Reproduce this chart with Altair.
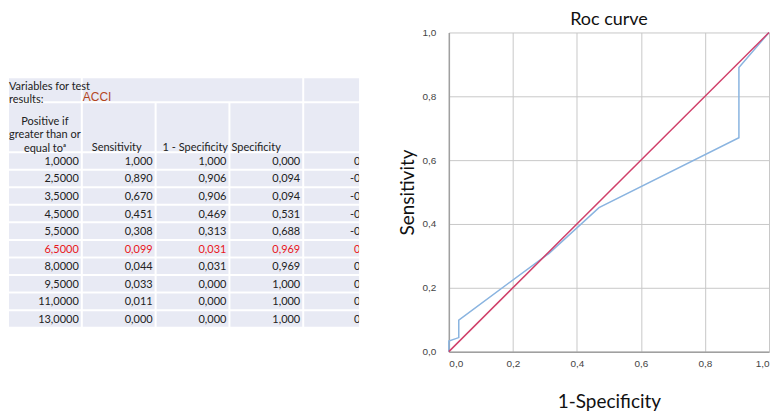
import altair as alt
import pandas as pd

# ---------------- data ----------------
thresholds = [1.0, 2.5, 3.5, 4.5, 5.5, 6.5, 8.0, 9.5, 11.0, 13.0]
sensitivity = [1.000, 0.890, 0.670, 0.451, 0.308, 0.099, 0.044, 0.033, 0.011, 0.000]
one_minus_spec = [1.000, 0.906, 0.906, 0.469, 0.313, 0.031, 0.031, 0.000, 0.000, 0.000]
specificity = [0.000, 0.094, 0.094, 0.531, 0.688, 0.969, 0.969, 1.000, 1.000, 1.000]
youden = [0.000, -0.016, -0.236, -0.018, -0.005, 0.068, 0.013, 0.033, 0.011, 0.000]

header_vars = "Variables for test\nresults:"
test_var = "ACCI"
header_cols = ["Positive if\ngreater than or\nequal toᵃ", "Sensitivity", "1 - Specificity", "Specificity", ""]
axis_ticks = [0.0, 0.2, 0.4, 0.6, 0.8, 1.0]

# ---------------- table layout (panel coords, origin = ROC plot top) ----------------
PANEL_W, PANEL_H = 352, 320
col_edges = [0, 74, 148, 222, 296, 378]
TOP, H1, H2, RH = 45, 25, 50, 17.6
row1 = (TOP, TOP + H1)
row2 = (TOP + H1, TOP + H1 + H2)
data_top = TOP + H1 + H2

BG = "#e8eaf4"
TXT = "#222222"
RED = "#e8161b"
FONT = "Lato"
FS = 11

def fmt(v, d):
    return f"{v:.{d}f}".replace(".", ",")

cells = []
for c0, c1 in [(0, 1), (1, 4), (4, 5)]:
    cells.append(dict(x=col_edges[c0] + 1, x2=col_edges[c1] - 1, y=row1[0] + 1, y2=row1[1] - 1))
for j in range(5):
    cells.append(dict(x=col_edges[j] + 1, x2=col_edges[j + 1] - 1, y=row2[0] + 1, y2=row2[1] - 1))
for i in range(len(thresholds)):
    for j in range(5):
        cells.append(dict(x=col_edges[j] + 1, x2=col_edges[j + 1] - 1,
                          y=data_top + i * RH + 1, y2=data_top + (i + 1) * RH - 1))
cells_df = pd.DataFrame(cells)

best = max(youden)
nums = []
for i in range(len(thresholds)):
    vals = [fmt(thresholds[i], 4), fmt(sensitivity[i], 3), fmt(one_minus_spec[i], 3),
            fmt(specificity[i], 3), fmt(youden[i], 3)]
    for j, s in enumerate(vals):
        nums.append(dict(x=col_edges[j + 1] - 3, y=data_top + (i + 0.5) * RH + 1, text=s,
                         hl="yes" if youden[i] == best else "no"))
nums_df = pd.DataFrame(nums)

xs = alt.Scale(domain=[0, PANEL_W], nice=False, zero=False)
ys = alt.Scale(domain=[0, PANEL_H], nice=False, zero=False, reverse=True)

def X(f="x"):
    return alt.X(f"{f}:Q", scale=xs, axis=None)

def Y(f="y"):
    return alt.Y(f"{f}:Q", scale=ys, axis=None)

rects = alt.Chart(cells_df).mark_rect(color=BG, clip=True).encode(
    x=X(), x2="x2:Q", y=Y(), y2="y2:Q")

numbers = alt.Chart(nums_df).mark_text(align="right", baseline="middle", font=FONT,
                                       fontSize=FS, clip=True).encode(
    x=X(), y=Y(), text="text:N",
    color=alt.Color("hl:N", scale=alt.Scale(domain=["no", "yes"], range=[TXT, RED]), legend=None))

hdr1 = alt.Chart(pd.DataFrame([dict(x=col_edges[0] + 1, y=row1[0] + 10, text=header_vars)])
                 ).mark_text(align="left", baseline="middle", font=FONT, fontSize=FS,
                             lineBreak="\n", lineHeight=13, color=TXT).encode(x=X(), y=Y(), text="text:N")

acci = alt.Chart(pd.DataFrame([dict(x=col_edges[1] + 1, y=row1[1] - 5, text=test_var)])
                 ).mark_text(align="left", baseline="middle", font="Liberation Sans", fontSize=12,
                             color="#b4461c").encode(x=X(), y=Y(), text="text:N")

hdr2a = alt.Chart(pd.DataFrame([dict(x=(col_edges[0] + col_edges[1]) / 2, y=row2[0] + 19.5,
                                     text=header_cols[0])])
                  ).mark_text(align="center", baseline="middle", font=FONT, fontSize=FS,
                              lineBreak="\n", lineHeight=13.5, color=TXT).encode(x=X(), y=Y(), text="text:N")

hdr_offsets = [10, 7, 2]
hdr2b = alt.Chart(pd.DataFrame([dict(x=col_edges[j] + hdr_offsets[j - 1], y=row2[1] - 4.5,
                                     text=header_cols[j]) for j in range(1, 4)])
                  ).mark_text(align="left", baseline="middle", font=FONT, fontSize=FS,
                              color=TXT).encode(x=X(), y=Y(), text="text:N")

table = alt.layer(rects, numbers, hdr1, acci, hdr2a, hdr2b).properties(width=PANEL_W, height=PANEL_H)

# ---------------- ROC chart ----------------
roc_df = pd.DataFrame({"fpr": one_minus_spec, "tpr": sensitivity, "order": list(range(len(thresholds)))})
diag_df = pd.DataFrame({"fpr": [0.0, 1.0], "tpr": [0.0, 1.0]})

label_expr = "replace(format(datum.value, '.1f'), '.', ',')"
common_axis = dict(values=axis_ticks, labelExpr=label_expr, grid=True, gridColor="#c8c8c8",
                   gridWidth=1, domainColor="#a0a0a0", domainWidth=1.5, ticks=False,
                   labelFont="Liberation Sans", labelFontSize=10, labelColor="#444444",
                   titleFont=FONT, titleFontSize=19, titleFontWeight="normal", titleColor="#111111")

xenc = alt.X("fpr:Q", scale=alt.Scale(domain=[0, 1], nice=False),
             axis=alt.Axis(title="1-Specificity", labelPadding=7, titlePadding=24, **common_axis))
yenc = alt.Y("tpr:Q", scale=alt.Scale(domain=[0, 1], nice=False),
             axis=alt.Axis(title="Sensitivity", labelPadding=13, titlePadding=5, **common_axis))

roc_line = alt.Chart(roc_df).mark_line(color="#8ab4e0", strokeWidth=1.5).encode(
    x=xenc, y=yenc, order="order:Q")
diag_line = alt.Chart(diag_df).mark_line(color="#d0406a", strokeWidth=1.5).encode(x=xenc, y=yenc)

roc = alt.layer(roc_line, diag_line).properties(
    width=321, height=320,
    title=alt.Title("Roc curve", font=FONT, fontSize=18, fontWeight="normal", offset=-2, color="#111111"))

chart = alt.hconcat(table, roc, spacing=39).properties(
    padding={"top": 3, "left": 0, "right": 0, "bottom": 0}).configure_view(stroke=None)

chart.save("out.html", embed_options={"renderer": "svg", "actions": False})
